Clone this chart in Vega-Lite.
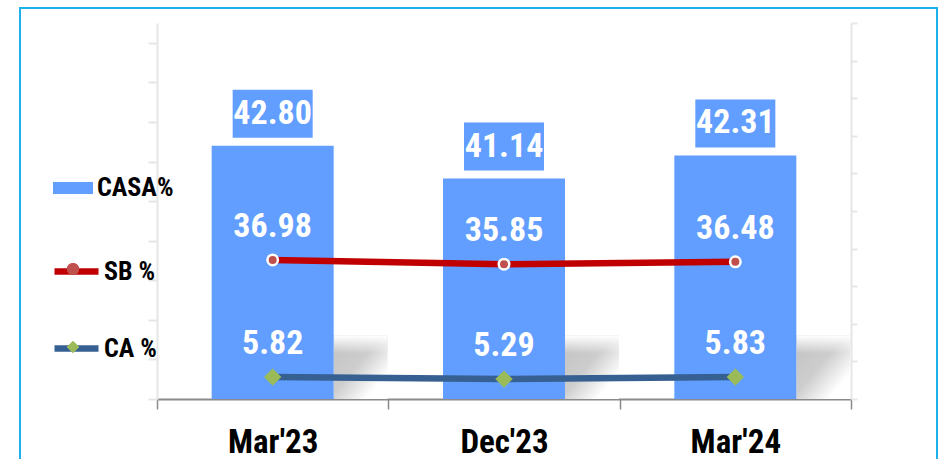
{
  "$schema": "https://vega.github.io/schema/vega-lite/v6.json",
  "width": 917,
  "height": 460,
  "autosize": {"type": "none"},
  "padding": {"left": 20, "top": 8, "right": 1, "bottom": 0},
  "background": "white",
  "config": {
    "view": {"stroke": "#1DB1EC", "strokeWidth": 2},
    "font": "Liberation Sans Narrow, Arial Narrow, Roboto Condensed, DejaVu Sans Condensed, Liberation Sans, sans-serif"
  },
  "datasets": {
    "bars": [
      {"period": "Mar'23", "series": "CASA%", "value": 42.80},
      {"period": "Dec'23", "series": "CASA%", "value": 41.14},
      {"period": "Mar'24", "series": "CASA%", "value": 42.31}
    ],
    "lines": [
      {"period": "Mar'23", "series": "SB %", "marker": "SB %", "value": 36.98},
      {"period": "Dec'23", "series": "SB %", "marker": "SB %", "value": 35.85},
      {"period": "Mar'24", "series": "SB %", "marker": "SB %", "value": 36.48},
      {"period": "Mar'23", "series": "CA %", "marker": "CA %", "value": 5.82},
      {"period": "Dec'23", "series": "CA %", "marker": "CA %", "value": 5.29},
      {"period": "Mar'24", "series": "CA %", "marker": "CA %", "value": 5.83}
    ]
  },
  "encoding": {
    "x": {
      "field": "period",
      "type": "nominal",
      "scale": {"domain": ["Mar'23", "Dec'23", "Mar'24"], "range": [137, 831], "paddingInner": 0, "paddingOuter": 0},
      "axis": {
        "title": null,
        "orient": "bottom",
        "offset": -69,
        "labelAngle": 0,
        "labelFontSize": 33,
        "labelFontWeight": "bold",
        "labelColor": "#000000",
        "labelBaseline": "alphabetic",
        "labelPadding": 43,
        "tickBand": "extent",
        "tickSize": 10,
        "tickColor": "#8a8a8a",
        "tickWidth": 1.5,
        "domainColor": "#8a8a8a",
        "domainWidth": 2,
        "grid": false
      }
    }
  },
  "layer": [
    {
      "data": {"name": "bars"},
      "encoding": {
        "y": {
          "field": "value",
          "type": "quantitative",
          "scale": {"domain": [30, 49], "range": [391, 15], "nice": false, "zero": false},
          "axis": {
            "orient": "left",
            "offset": -137,
            "title": null,
            "labels": false,
            "values": [30, 32, 34, 36, 38, 40, 42, 44, 46, 48],
            "tickSize": 9,
            "tickColor": "#e6e6e6",
            "tickWidth": 2,
            "domainColor": "#e6e6e6",
            "domainWidth": 2,
            "grid": false
          }
        }
      },
      "layer": [
        {
          "mark": {
            "type": "bar",
            "width": 54,
            "xOffset": 88,
            "color": {
              "gradient": "linear", "x1": 0, "y1": 0, "x2": 1, "y2": 1,
              "stops": [
                {"offset": 0, "color": "#c2c2c2"},
                {"offset": 0.45, "color": "#cdcdcd"},
                {"offset": 0.8, "color": "#ffffff"}
              ]
            }
          },
          "encoding": {
            "y": {"datum": 33.2, "type": "quantitative"},
            "y2": {"datum": 30}
          }
        },
        {
          "mark": {
            "type": "bar",
            "width": 54,
            "xOffset": 88,
            "color": {
              "gradient": "linear", "x1": 0, "y1": 0, "x2": 0, "y2": 1,
              "stops": [
                {"offset": 0, "color": "rgba(255,255,255,1)"},
                {"offset": 1, "color": "rgba(255,255,255,0)"}
              ]
            }
          },
          "encoding": {
            "y": {"datum": 33.2, "type": "quantitative"},
            "y2": {"datum": 32.3}
          }
        },
        {
          "mark": {"type": "bar", "width": 122},
          "encoding": {
            "y2": {"datum": 30},
            "fill": {
              "field": "series",
              "type": "nominal",
              "scale": {"domain": ["CASA%"], "range": ["#619EFF"]},
              "legend": {
                "orient": "none",
                "legendX": 33,
                "legendY": 160,
                "title": null,
                "padding": 0,
                "symbolType": "M-1,-0.3H1V0.3H-1Z",
                "symbolSize": 1600,
                "symbolStrokeWidth": 0,
                "labelFontSize": 26,
                "labelFontWeight": "bold",
                "labelColor": "#000000",
                "labelOffset": 4
              }
            }
          }
        },
        {
          "mark": {"type": "bar", "width": 80, "yOffset": -56, "y2Offset": -8, "color": "#619EFF"},
          "encoding": {
            "y2": {"field": "value"}
          }
        },
        {
          "mark": {
            "type": "text",
            "yOffset": -32,
            "baseline": "middle",
            "align": "center",
            "fontSize": 34,
            "fontWeight": "bold",
            "color": "#ffffff"
          },
          "encoding": {
            "text": {"field": "value", "type": "quantitative", "format": ".2f"}
          }
        }
      ]
    },
    {
      "data": {"name": "lines"},
      "encoding": {
        "y": {
          "field": "value",
          "type": "quantitative",
          "scale": {"domain": [0, 100], "range": [391, 15], "nice": false},
          "axis": {
            "orient": "right",
            "offset": -86,
            "title": null,
            "labels": false,
            "values": [0, 10, 20, 30, 40, 50, 60, 70, 80, 90, 100],
            "tickSize": 6,
            "tickColor": "#e6e6e6",
            "tickWidth": 2,
            "domainColor": "#e6e6e6",
            "domainWidth": 2,
            "grid": false
          }
        }
      },
      "layer": [
        {
          "mark": {"type": "line", "strokeWidth": 6.5},
          "encoding": {
            "stroke": {
              "field": "series",
              "type": "nominal",
              "scale": {"domain": ["SB %", "CA %"], "range": ["#C00000", "#376092"]},
              "legend": {
                "orient": "none",
                "legendX": 31,
                "legendY": 238,
                "title": null,
                "padding": 0,
                "symbolType": "stroke",
                "symbolSize": 1936,
                "symbolStrokeWidth": 6.5,
                "rowPadding": 38,
                "labelFontSize": 26,
                "labelFontWeight": "bold",
                "labelColor": "#000000",
                "labelOffset": 2
              }
            }
          }
        },
        {
          "transform": [{"filter": "datum.marker === 'SB %'"}],
          "mark": {"type": "point", "filled": true, "size": 110, "stroke": "#ffffff", "strokeWidth": 2.5, "opacity": 1},
          "encoding": {
            "color": {
              "field": "marker",
              "type": "nominal",
              "sort": ["SB %", "CA %"],
              "scale": {"range": ["#C0504D", "#9BBB59"]},
              "legend": {
                "orient": "none",
                "legendX": 46,
                "legendY": 254,
                "title": null,
                "padding": 0,
                "symbolSize": 150,
                "symbolFillColor": "#C0504D",
                "symbolStrokeColor": "#ffffff",
                "symbolStrokeWidth": 1,
                "symbolOpacity": 1,
                "rowPadding": 60,
                "labelExpr": "''",
                "labelFontSize": 1,
                "labelOffset": 0,
                "encode": {"symbols": {"update": {"fill": {"signal": "datum.value === 'SB %' ? '#C0504D' : '#9BBB59'"}, "shape": {"signal": "datum.value === 'SB %' ? 'circle' : 'diamond'"}}}}
              }
            },
            "shape": {
              "field": "marker",
              "type": "nominal",
              "sort": ["SB %", "CA %"],
              "scale": {"range": ["circle", "diamond"]},
              "legend": {
                "orient": "none",
                "legendX": 46,
                "legendY": 254,
                "title": null,
                "padding": 0,
                "symbolSize": 150,
                "symbolFillColor": "#C0504D",
                "symbolStrokeColor": "#ffffff",
                "symbolStrokeWidth": 1,
                "symbolOpacity": 1,
                "rowPadding": 60,
                "labelExpr": "''",
                "labelFontSize": 1,
                "labelOffset": 0,
                "encode": {"symbols": {"update": {"fill": {"signal": "datum.value === 'SB %' ? '#C0504D' : '#9BBB59'"}, "shape": {"signal": "datum.value === 'SB %' ? 'circle' : 'diamond'"}}}}
              }
            }
          }
        },
        {
          "transform": [{"filter": "datum.marker === 'CA %'"}],
          "mark": {"type": "point", "filled": true, "size": 300, "strokeWidth": 0, "opacity": 1},
          "encoding": {
            "color": {
              "field": "marker",
              "type": "nominal",
              "sort": ["SB %", "CA %"],
              "legend": {
                "orient": "none",
                "legendX": 46,
                "legendY": 254,
                "title": null,
                "padding": 0,
                "symbolSize": 150,
                "symbolFillColor": "#C0504D",
                "symbolStrokeColor": "#ffffff",
                "symbolStrokeWidth": 1,
                "symbolOpacity": 1,
                "rowPadding": 60,
                "labelExpr": "''",
                "labelFontSize": 1,
                "labelOffset": 0,
                "encode": {"symbols": {"update": {"fill": {"signal": "datum.value === 'SB %' ? '#C0504D' : '#9BBB59'"}, "shape": {"signal": "datum.value === 'SB %' ? 'circle' : 'diamond'"}}}}
              }
            },
            "shape": {
              "field": "marker",
              "type": "nominal",
              "sort": ["SB %", "CA %"],
              "legend": {
                "orient": "none",
                "legendX": 46,
                "legendY": 254,
                "title": null,
                "padding": 0,
                "symbolSize": 150,
                "symbolFillColor": "#C0504D",
                "symbolStrokeColor": "#ffffff",
                "symbolStrokeWidth": 1,
                "symbolOpacity": 1,
                "rowPadding": 60,
                "labelExpr": "''",
                "labelFontSize": 1,
                "labelOffset": 0,
                "encode": {"symbols": {"update": {"fill": {"signal": "datum.value === 'SB %' ? '#C0504D' : '#9BBB59'"}, "shape": {"signal": "datum.value === 'SB %' ? 'circle' : 'diamond'"}}}}
              }
            }
          }
        },
        {
          "mark": {
            "type": "text",
            "yOffset": -33,
            "baseline": "middle",
            "align": "center",
            "fontSize": 34,
            "fontWeight": "bold",
            "color": "#ffffff"
          },
          "encoding": {
            "text": {"field": "value", "type": "quantitative", "format": ".2f"}
          }
        }
      ]
    }
  ],
  "resolve": {"scale": {"y": "independent"}, "axis": {"y": "independent"}}
}
